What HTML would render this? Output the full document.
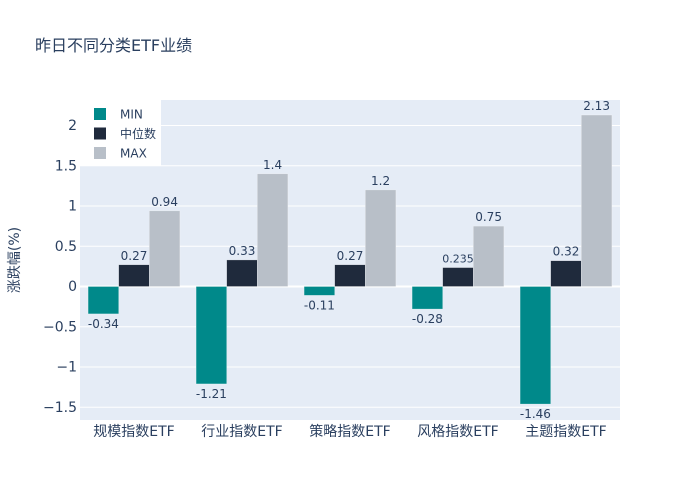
<!DOCTYPE html>
<html><head><meta charset="utf-8"><style>
body{margin:0;background:#fff;font-family:"DejaVu Sans","Noto Sans CJK SC",sans-serif}
svg text{font-family:"DejaVu Sans","Noto Sans CJK SC",sans-serif;fill:#2a3f5f}
</style></head><body>
<svg id="c" width="700" height="500">
<rect x="0" y="0" width="700" height="500" fill="#fff"/>
<text x="35" y="51" font-size="16">昨日不同分类ETF业绩</text>
<rect x="80" y="100" width="540" height="320" fill="#e5ecf6"/>
<g id="grid"></g><g id="bars"></g><g id="labels"></g>
<text transform="translate(19,260) rotate(-90)" text-anchor="middle" font-size="14">涨跌幅(%)</text>
<g id="legend"></g>
</svg>
<script>
const categories=["规模指数ETF","行业指数ETF","策略指数ETF","风格指数ETF","主题指数ETF"];
const seriesNames=["MIN","中位数","MAX"];
const minVals=[-0.34,-1.21,-0.11,-0.28,-1.46];
const medVals=[0.27,0.33,0.27,0.235,0.32];
const maxVals=[0.94,1.4,1.2,0.75,2.13];
const yTicks=[-1.5,-1,-0.5,0,0.5,1,1.5,2];
const yTickLabels=["−1.5","−1","−0.5","0","0.5","1","1.5","2"];
const colors=["#00898a","#1f2a3c","#b8bfc8"];
const NS="http://www.w3.org/2000/svg";
const X0=80,W=540,Y0=286.5,S=80.5;
const y=v=>Y0-v*S;
function mk(tag,attrs,parent,txt){const e=document.createElementNS(NS,tag);for(const k in attrs)e.setAttribute(k,attrs[k]);if(txt!==undefined)e.textContent=txt;document.getElementById(parent).appendChild(e);return e;}
yTicks.forEach((t,i)=>{
  const g=mk('line',{x1:X0,x2:X0+W,y1:y(t),y2:y(t),stroke:'#fff','stroke-width':t===0?2:1},'grid');
  
  
  const l=mk('text',{x:77,y:y(t)+4.5,'text-anchor':'end','font-size':14},'grid',yTickLabels[i]);
  
  
});
const gw=W/categories.length,bw=gw*0.85/3;
const all=[minVals,medVals,maxVals];
categories.forEach((c,i)=>{
  const cx=X0+gw*(i+0.5);
  const t=mk('text',{x:cx,y:436,'text-anchor':'middle','font-size':14},'labels',c);
  
  
  all.forEach((vals,s)=>{
    const v=vals[i],bx=cx-1.5*bw+s*bw;
    const r=mk('rect',{x:bx,y:Math.min(y(v),Y0),width:bw,height:Math.abs(y(v)-Y0),fill:colors[s],stroke:'rgba(255,255,255,0.5)','stroke-width':0.5},'bars');
    
    
    const small=String(Math.abs(v)).length>4;
    const ly=v>=0?y(v)-5:y(v)+14;
    const lt=mk('text',{x:bx+bw/2,y:ly,'text-anchor':'middle','font-size':small?11:12},'labels',String(v));
    
    
  });
});
mk('rect',{x:80,y:100,width:81,height:66,fill:'#fff'},'legend');
seriesNames.forEach((n,i)=>{
  const yy=114+i*19.5;
  const sw=mk('rect',{x:94,y:yy-6,width:12,height:12,fill:colors[i]},'legend');
  
  
  const t=mk('text',{x:120,y:yy+4.5,'font-size':12},'legend',n);
  
  
});
</script>
</body></html>
